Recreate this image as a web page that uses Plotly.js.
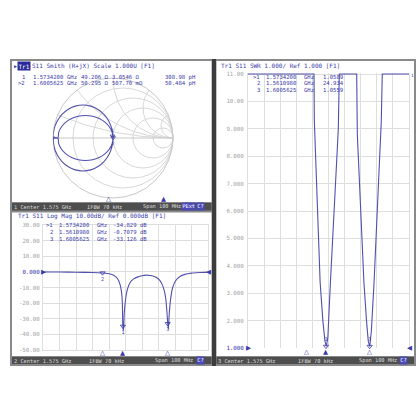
<!DOCTYPE html>
<html><head><meta charset="utf-8">
<script src="https://cdn.plot.ly/plotly-3.0.1.min.js"></script>
<style>html,body{margin:0;padding:0;background:#fff}#chart{width:420px;height:420px}</style>
</head><body><div id="chart"></div>
<script>
// ---------------- data ----------------
const logFreq = [1.5250,1.5300,1.5400,1.5500,1.5550,1.5610,1.5640,1.5662,1.5680,1.5695,1.5708,1.5718,1.5726,1.5731,1.5734,1.5738,1.5742,1.5750,1.5762,1.5780,1.5800,1.5825,1.5850,1.5875,1.5900,1.5920,1.5940,1.5958,1.5972,1.5985,1.5995,1.6002,1.6006,1.6010,1.6015,1.6024,1.6036,1.6055,1.6080,1.6110,1.6150,1.6200,1.6250];
const logDb = [-0.05,-0.1,-0.15,-0.3,-0.4,-0.71,-1.0,-1.5,-2.3,-3.5,-5.5,-8.5,-13,-20,-34.8,-37.5,-27,-18,-11,-6.5,-4.5,-3.2,-2.5,-2.1,-2.3,-2.8,-3.8,-5.5,-8,-12,-18,-27,-33.1,-36.5,-27,-17,-10,-5.5,-3.0,-1.6,-0.8,-0.4,-0.15];

const swrFreq = [1.5250,1.5660,1.5662,1.5680,1.5698,1.5715,1.5728,1.5737,1.5746,1.5762,1.5790,1.5811,1.5817,1.5925,1.5929,1.5950,1.5970,1.5986,1.5997,1.6006,1.6016,1.6033,1.6060,1.6078,1.6084,1.6250];
const swrVal = [11,11,9.3,6.0,3.4,2.0,1.25,1.06,1.4,3.4,6.5,9.0,11,11,8.8,5.8,3.4,2.0,1.25,1.056,1.6,3.4,6.8,9.3,11,11];

// reflection coefficient points (big loop, then small loop)
const smithGammaRe = [-0.995,-0.983,-0.933,-0.854,-0.750,-0.629,-0.500,-0.371,-0.250,-0.146,-0.067,-0.017,0.000,-0.017,-0.067,-0.146,-0.250,-0.371,-0.500,-0.629,-0.750,-0.854,-0.933,-0.983,-0.995,
  -0.920,-0.904,-0.858,-0.785,-0.690,-0.579,-0.460,-0.341,-0.230,-0.135,-0.062,-0.016,0.000,-0.016,-0.062,-0.135,-0.230,-0.341,-0.460,-0.579,-0.690,-0.785,-0.858,-0.904,-0.920,-0.990];
const smithGammaIm = [0.000,-0.142,-0.275,-0.389,-0.476,-0.531,-0.550,-0.531,-0.476,-0.389,-0.275,-0.142,0.000,0.142,0.275,0.389,0.476,0.531,0.550,0.531,0.476,0.389,0.275,0.142,0.000,
  0.000,-0.097,-0.188,-0.265,-0.325,-0.362,-0.375,-0.362,-0.325,-0.265,-0.188,-0.097,0.000,0.097,0.188,0.265,0.325,0.362,0.375,0.362,0.325,0.265,0.188,0.097,0.000,0.020];

const markerNames = ['1','2','3'];
const markerFreqText = ['1.5734200','1.5610980','1.6005625'];
const markerFreq = [1.5734200, 1.5610980, 1.6005625];
const markerDbText = ['-34.829 dB','-0.7079 dB','-33.126 dB'];
const markerDb = [-34.829, -0.7079, -33.126];
const markerSwrText = ['1.0589','24.934','1.0559'];
const markerSwr = [1.0589, 24.934, 1.0559];
const smithMarkerFreqText = ['1.5734200','1.6005625'];
const smithMarkerR = [49.206, 50.295];     // ohm
const smithMarkerX = [3.0546, 0.50770];    // ohm
const smithMarkerRText = ['49.206 Ω','50.295 Ω'];
const smithMarkerXText = ['3.0546 Ω','507.70 mΩ'];
const smithMarkerLText = ['308.98 pH','50.484 pH'];

const logTickVals = [30,20,10,0,-10,-20,-30,-40,-50];
const logTickText = ['30.00','20.00','10.00','<span style="fill:#3434a8">0.000</span>','-10.00','-20.00','-30.00','-40.00','-50.00'];
const swrTickVals = [1,2,3,4,5,6,7,8,9,10,11];
const swrTickText = ['<span style="fill:#3434a8">1.000</span>','2.000','3.000','4.000','5.000','6.000','7.000','8.000','9.000','10.00','11.00'];

// ---------------- styling ----------------
const W = 420;
const FONT = 'DejaVu Sans Mono, monospace';
const TRACE = '#5050ae';
const BLUE = '#3a3aaa';
const GRAY = '#a4a4a4';
const GRID = '#dedede';
const STATUSBG = '#4e4e4e';
const STATUSTX = '#dadada';
const BOX = '#4a4ab6';
const px = v => v / W;
const py = v => 1 - v / W;

function gammaToZ(re, im) {
  const nr = 1 + re, ni = im, dr = 1 - re, di = -im;
  const den = dr * dr + di * di;
  return [(nr * dr + ni * di) / den, (ni * dr - nr * di) / den];
}
const smithZ = smithGammaRe.map((r, i) => gammaToZ(r, smithGammaIm[i]));

const annotations = [];
function txt(text, x, y, o = {}) {
  annotations.push({
    text, x: px(x), y: py(y), xref: 'paper', yref: 'paper',
    xanchor: o.xa || 'left', yanchor: 'middle', showarrow: false,
    font: { family: FONT, size: o.size || 5.6, color: o.color || BLUE },
    bgcolor: o.bg || 'rgba(0,0,0,0)', borderpad: o.pad || 0
  });
}

// Panel A: Smith
txt('▶', 12.5, 65.5, { size: 5 });
txt('Tr1', 17, 65.5, { color: '#ffffff', bg: '#2a2a9a', pad: 0.5, size: 6 });
txt('S11 Smith (R+jX) Scale 1.000U [F1]', 31, 65.5, { size: 6 });
const smithRowsY = [77, 83.5];
['1', '>2'].forEach((n, i) => {
  const y = smithRowsY[i];
  txt(n, 26, y, { xa: 'right' });
  txt(smithMarkerFreqText[i], 32, y);
  txt('GHz', 66, y);
  txt(smithMarkerRText[i], 80, y);
  txt(smithMarkerXText[i], 111, y);
  txt(smithMarkerLText[i], 164, y);
});
// Panel B: log mag
txt('Tr1 S11 Log Mag 10.00dB/ Ref 0.000dB [F1]', 17, 216.5, { size: 6 });
const logRowsY = [225, 232, 239];
['>1', '2', '3'].forEach((n, i) => {
  const y = logRowsY[i];
  txt(n, 54, y, { xa: 'right' });
  txt(markerFreqText[i], 58, y);
  txt('GHz', 96, y);
  txt(markerDbText[i], 112, y);
});
// Panel C: SWR
txt('Tr1 S11 SWR 1.000/ Ref 1.000 [F1]', 220, 65.5, { size: 6 });
const swrRowsY = [76.5, 83, 89.5];
['>1', '2', '3'].forEach((n, i) => {
  const y = swrRowsY[i];
  txt(n, 261, y, { xa: 'right' });
  txt(markerFreqText[i], 265, y);
  txt('GHz', 303, y);
  txt(markerSwrText[i], 322, y);
});
txt('1', 410, 75, { size: 4.5 });

// status bars
function status(n, x0, yC, ifbwX, spanX) {
  txt(n + ' Center 1.575 GHz', x0, yC, { color: STATUSTX, size: 5.3 });
  txt('IFBW 70 kHz', ifbwX, yC, { color: STATUSTX, size: 5.3 });
  txt('Span 100 MHz', spanX, yC, { color: STATUSTX, size: 5.3 });
}
status('1', 13, 206.5, 86, 142);
txt('PExt', 180.5, 206.5, { color: '#ffffff', bg: BOX, size: 5.3, pad: 0.3 });
txt('C?', 196, 206.5, { color: '#ffffff', bg: BOX, size: 5.3, pad: 0.3 });
status('2', 13, 360.5, 88, 154);
txt('C?', 196, 360.5, { color: '#ffffff', bg: BOX, size: 5.3, pad: 0.3 });
status('3', 217, 360.5, 297, 358);
txt('C?', 399, 360.5, { color: '#ffffff', bg: BOX, size: 5.3, pad: 0.3 });

// marker indicators below plots (x through the axes' own scales)
function ind(xref, f, y, filled) {
  annotations.push({
    text: filled ? '▲' : '△', x: f, y: py(y), xref, yref: 'paper',
    xanchor: 'center', yanchor: 'middle', showarrow: false,
    font: { family: 'DejaVu Sans', size: 6.5, color: BLUE }
  });
}
ind('x3', markerFreq[0], 198.5, false);
ind('x3', markerFreq[2], 198.5, true);
ind('x', markerFreq[1], 352.5, false);
ind('x', markerFreq[0], 352.5, true);
ind('x', markerFreq[2], 352.5, false);
ind('x2', markerFreq[1], 351.5, false);
ind('x2', markerFreq[0], 351.5, true);
ind('x2', markerFreq[2], 351.5, false);

// reference level arrows
function arrow(xref, xv, yref, yv, t, xa) {
  annotations.push({ text: t, x: xv, y: yv, xref, yref, xanchor: xa, yanchor: 'middle', showarrow: false,
    font: { family: 'DejaVu Sans', size: 6.5, color: BLUE } });
}
arrow('x', 1.525, 'y', 0, '▶', 'center');
arrow('x', 1.625, 'y', 0, '◀', 'center');
arrow('x2', 1.525, 'y2', 1, '▶', 'center');
arrow('x2', 1.625, 'y2', 1, '◀', 'center');

// ---------------- shapes (screen frame) ----------------
function rect(x0, y0, x1, y1, fill, layer = 'below') {
  return { type: 'rect', xref: 'paper', yref: 'paper', x0: px(x0), x1: px(x1), y0: py(y1), y1: py(y0),
    fillcolor: fill, line: { width: 0 }, layer };
}
const shapes = [
  rect(10, 59, 416, 366, '#8a8a8a'),
  rect(212, 59, 216, 366, '#3c3c3c'),
  rect(12, 61, 211.5, 202.5, '#ffffff'),
  rect(12, 202.5, 211.5, 210.5, STATUSBG),
  rect(12, 212.5, 211.5, 356.5, '#ffffff'),
  rect(12, 356.5, 211.5, 364, STATUSBG),
  rect(216.5, 61, 414, 356.5, '#ffffff'),
  rect(216.5, 356.5, 414, 364, STATUSBG)
];

// ---------------- traces ----------------
const traces = [
  { type: 'scattersmith', real: smithZ.map(z => z[0]), imag: smithZ.map(z => z[1]),
    mode: 'lines', line: { color: TRACE, width: 1.1, shape: 'spline' }, hoverinfo: 'skip' },
  { type: 'scattersmith', real: smithMarkerR.map(v => v / 50), imag: smithMarkerX.map(v => v / 50),
    mode: 'markers+text', text: ['1', '2'], textposition: ['top center', 'bottom center'],
    textfont: { family: FONT, size: 4.5, color: BLUE },
    marker: { symbol: 'triangle-down-open', size: 4, color: BLUE, line: { width: 0.8 } } },
  { type: 'scatter', x: logFreq, y: logDb, xaxis: 'x', yaxis: 'y', mode: 'lines',
    line: { color: TRACE, width: 1.1, shape: 'spline', smoothing: 0.6 } },
  { type: 'scatter', x: markerFreq, y: markerDb, xaxis: 'x', yaxis: 'y', mode: 'markers+text',
    text: markerNames, textposition: 'bottom center', textfont: { family: FONT, size: 5, color: BLUE },
    marker: { symbol: 'triangle-down-open', size: 4.5, color: BLUE, line: { width: 0.8 } } },
  { type: 'scatter', x: swrFreq, y: swrVal, xaxis: 'x2', yaxis: 'y2', mode: 'lines',
    line: { color: TRACE, width: 1.1 } },
  { type: 'scatter', x: [markerFreq[0], markerFreq[2]], y: [markerSwr[0], markerSwr[2]], xaxis: 'x2', yaxis: 'y2',
    mode: 'markers+text', text: ['1', '3'], textposition: 'top center', cliponaxis: false,
    textfont: { family: FONT, size: 5, color: BLUE },
    marker: { symbol: 'triangle-down-open', size: 4.5, color: BLUE, line: { width: 0.8 } } },
  { type: 'scatter', x: [1.525, 1.625], y: [0, 1], xaxis: 'x3', yaxis: 'y3', mode: 'none', hoverinfo: 'skip' }
];

const axBase = {
  showgrid: true, gridcolor: GRID, gridwidth: 1, zeroline: false, ticks: '',
  showline: true, mirror: true, linecolor: GRID, linewidth: 1, fixedrange: true
};

const layout = {
  width: 420, height: 420, margin: { l: 0, r: 0, t: 0, b: 0 },
  paper_bgcolor: '#ffffff', plot_bgcolor: 'rgba(0,0,0,0)', showlegend: false,
  xaxis: Object.assign({}, axBase, { domain: [px(43), px(208)], range: [1.525, 1.625], tick0: 1.525, dtick: 0.01,
    showticklabels: false, anchor: 'y' }),
  yaxis: Object.assign({}, axBase, { domain: [py(350), py(225)], range: [-50, 30], tickvals: logTickVals,
    ticktext: logTickText, tickfont: { family: FONT, size: 5.8, color: GRAY }, anchor: 'x', ticklabelstandoff: 1 }),
  xaxis2: Object.assign({}, axBase, { domain: [px(248), px(409)], range: [1.525, 1.625], tick0: 1.525, dtick: 0.01,
    showticklabels: false, anchor: 'y2', showline: false }),
  yaxis2: Object.assign({}, axBase, { domain: [py(348), py(72.9)], range: [1, 11.04], tickvals: swrTickVals,
    ticktext: swrTickText, tickfont: { family: FONT, size: 5.8, color: GRAY }, anchor: 'x2', ticklabelstandoff: 2 }),
  xaxis3: { domain: [px(12), px(212)], range: [1.525, 1.625], visible: false, anchor: 'y3', fixedrange: true },
  yaxis3: { domain: [py(200), py(196)], range: [0, 1], visible: false, anchor: 'x3', fixedrange: true },
  smith: {
    domain: { x: [px(53), px(173)], y: [py(198), py(78)] },
    bgcolor: 'rgba(0,0,0,0)',
    realaxis: { tickvals: [0.2, 0.5, 1, 2, 5], showticklabels: false, ticks: '', gridcolor: '#d8d8d8',
      linecolor: '#c8c8c8', showline: true, layer: 'below traces' },
    imaginaryaxis: { tickvals: [0.2, 0.5, 1, 2, 5], showticklabels: false, ticks: '', gridcolor: '#d8d8d8',
      linecolor: '#c8c8c8', showline: true, layer: 'below traces' }
  },
  shapes, annotations
};

Plotly.newPlot('chart', traces, layout, { staticPlot: true, displayModeBar: false });
</script>
</body></html>
